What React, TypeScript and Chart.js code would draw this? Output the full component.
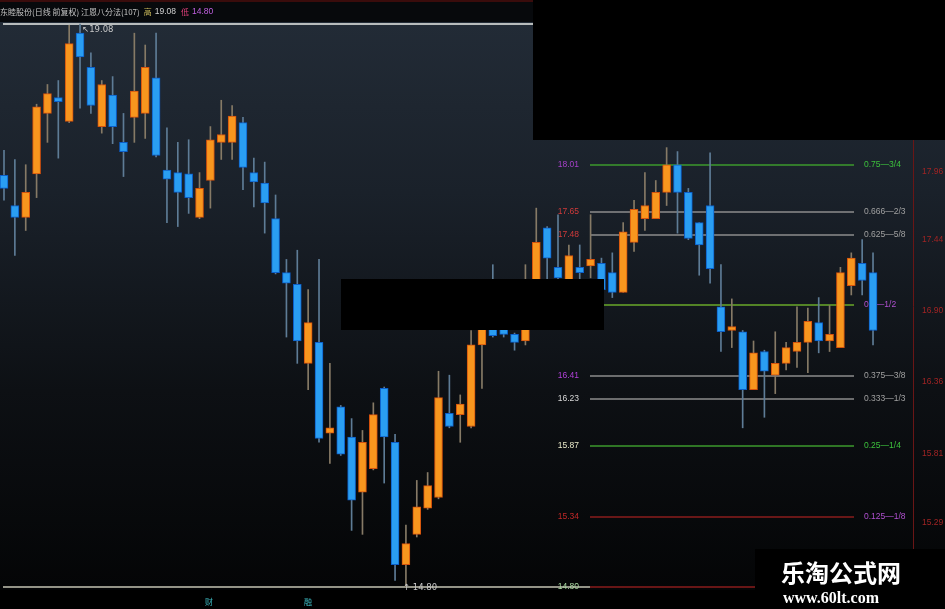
import { useEffect, useRef } from 'react';
import { Chart, registerables } from 'chart.js';

Chart.register(...registerables);

// ---- data ----
const OPEN = [17.93, 17.70, 17.61, 17.94, 18.40, 18.52, 18.34, 19.01, 18.75, 18.30, 18.54, 18.18, 18.37, 18.40, 18.67, 17.97, 17.95, 17.94, 17.61, 17.89, 18.18, 18.18, 18.33, 17.95, 17.87, 17.60, 17.19, 17.10, 16.50, 16.66, 15.97, 16.17, 15.94, 15.52, 15.70, 16.31, 15.90, 14.97, 15.20, 15.40, 15.48, 16.12, 16.11, 16.02, 16.64, 17.02, 16.76, 16.72, 16.67, 17.00, 17.53, 17.23, 17.10, 17.23, 17.24, 17.26, 17.19, 17.04, 17.42, 17.60, 17.60, 17.80, 18.01, 17.80, 17.57, 17.70, 16.93, 16.75, 16.74, 16.30, 16.59, 16.41, 16.50, 16.59, 16.66, 16.81, 16.67, 16.62, 17.09, 17.26, 17.19];
const HIGH = [18.12, 18.05, 18.01, 18.47, 18.62, 18.65, 19.07, 19.08, 18.86, 18.65, 18.68, 18.40, 19.01, 18.92, 19.01, 18.29, 18.18, 18.20, 17.95, 18.30, 18.50, 18.46, 18.37, 18.06, 18.03, 17.78, 17.29, 17.36, 17.06, 17.29, 16.50, 16.18, 16.08, 15.99, 16.20, 16.32, 15.96, 15.27, 15.61, 15.67, 16.44, 16.41, 16.26, 16.75, 17.06, 17.25, 16.95, 16.73, 17.25, 17.68, 17.54, 17.63, 17.40, 17.40, 17.63, 17.30, 17.34, 17.57, 17.74, 17.95, 17.89, 18.14, 18.11, 17.83, 17.57, 18.10, 17.25, 16.99, 16.75, 16.67, 16.60, 16.74, 16.66, 16.93, 16.92, 17.00, 16.94, 17.23, 17.34, 17.44, 17.34];
const LOW = [17.74, 17.32, 17.51, 17.76, 18.18, 18.06, 18.33, 18.44, 18.40, 18.25, 18.17, 17.92, 18.18, 18.21, 18.07, 17.57, 17.54, 17.64, 17.60, 17.68, 18.05, 18.05, 17.82, 17.69, 17.49, 17.18, 16.70, 16.50, 16.30, 15.90, 15.74, 15.80, 15.23, 15.20, 15.69, 15.59, 14.85, 14.80, 15.18, 15.39, 15.47, 16.01, 15.90, 16.01, 16.31, 16.70, 16.70, 16.60, 16.64, 16.95, 17.10, 17.05, 17.05, 17.10, 17.15, 17.00, 17.00, 17.04, 17.35, 17.51, 17.60, 17.70, 17.49, 17.44, 17.17, 17.11, 16.59, 16.62, 16.01, 16.30, 16.09, 16.27, 16.45, 16.47, 16.43, 16.58, 16.59, 16.62, 17.02, 17.02, 16.64];
const CLOSE = [17.83, 17.61, 17.80, 18.45, 18.55, 18.49, 18.93, 18.83, 18.46, 18.62, 18.30, 18.11, 18.57, 18.75, 18.08, 17.90, 17.80, 17.76, 17.83, 18.20, 18.24, 18.38, 17.99, 17.88, 17.72, 17.19, 17.11, 16.67, 16.81, 15.93, 16.01, 15.81, 15.46, 15.90, 16.11, 15.94, 14.97, 15.13, 15.41, 15.57, 16.24, 16.02, 16.19, 16.64, 16.98, 16.71, 16.72, 16.66, 17.00, 17.42, 17.30, 17.15, 17.32, 17.19, 17.29, 17.06, 17.04, 17.50, 17.67, 17.70, 17.80, 18.01, 17.80, 17.45, 17.40, 17.22, 16.74, 16.78, 16.30, 16.58, 16.44, 16.50, 16.62, 16.66, 16.82, 16.67, 16.72, 17.19, 17.30, 17.13, 16.75];

const PERIOD_HIGH = 19.08;
const PERIOD_LOW = 14.80;
const GANN_FRACTIONS = [3 / 4, 2 / 3, 5 / 8, 1 / 2, 3 / 8, 1 / 3, 1 / 4, 1 / 8, 0];
const GANN_NAMES = ['0.75—3/4', '0.666—2/3', '0.625—5/8', '0.5—1/2', '0.375—3/8', '0.333—1/3', '0.25—1/4', '0.125—1/8', ''];
const AXIS_TICKS = [17.96, 17.44, 16.90, 16.36, 15.81, 15.29];
const TITLE = '东睦股份(日线 前复权) 江恩八分法(107)';

// ---- styles ----
const GANN_LINE_COLORS = ['#3c9a2c', '#8c8c8c', '#8c8c8c', '#6aa82a', '#8c8c8c', '#8c8c8c', '#3c9a2c', '#8a1c1c', '#8a1c1c'];
const GANN_VALUE_COLORS = ['#a540c8', '#d03a3a', '#d03a3a', '#a540c8', '#b040d8', '#d8d8d8', '#e8e8c8', '#c02828', '#a8d8a0'];
const GANN_NAME_COLORS = ['#3cc03c', '#a0a0a0', '#a0a0a0', '#b050d0', '#a0a0a0', '#a0a0a0', '#3cc03c', '#b050d0', '#a0a0a0'];
const UP_FILL = '#f8961e';
const UP_EDGE = '#d5520c';
const DN_FILL = '#2a9ef2';
const DN_EDGE = '#0c5ec8';
const UP_WICK = '#867a66';
const DN_WICK = '#5e7c96';

const isUp = (i: number) => CLOSE[i] >= OPEN[i];
const fmt = (v: number) => (v + 1e-9).toFixed(2);

const deco = {
  id: 'deco',
  beforeDraw(chart: any) {
    const { ctx, width, height, chartArea } = chart;
    ctx.save();
    ctx.fillStyle = '#000';
    ctx.fillRect(0, 0, width, height);
    const g = ctx.createLinearGradient(0, chartArea.top, 0, chartArea.bottom);
    g.addColorStop(0, '#222b36');
    g.addColorStop(0.3, '#1a212a');
    g.addColorStop(0.65, '#0d1014');
    g.addColorStop(1, '#040506');
    ctx.fillStyle = g;
    ctx.fillRect(0, chartArea.top, width, chartArea.bottom - chartArea.top);
    // header
    ctx.fillStyle = '#07090c';
    ctx.fillRect(0, 0, 533, chartArea.top);
    ctx.fillStyle = '#3a0c0c';
    ctx.fillRect(0, 0, 533, 2);
    ctx.restore();
  },
  beforeDatasetsDraw(chart: any) {
    const { ctx, scales } = chart;
    const y = scales.y;
    ctx.save();
    // frame lines
    const yTop = y.getPixelForValue(PERIOD_HIGH);
    const yBot = y.getPixelForValue(PERIOD_LOW);
    ctx.strokeStyle = '#b8bcbc';
    ctx.lineWidth = 2;
    ctx.beginPath();
    ctx.moveTo(3, yTop);
    ctx.lineTo(533, yTop);
    ctx.stroke();
    ctx.strokeStyle = '#c4c4b4';
    ctx.lineWidth = 1.5;
    ctx.beginPath();
    ctx.moveTo(3, yBot);
    ctx.lineTo(590, yBot);
    ctx.stroke();
    // gann lines
    ctx.font = '8.5px "Liberation Sans", sans-serif';
    ctx.textBaseline = 'middle';
    GANN_FRACTIONS.forEach((f, k) => {
      const v = PERIOD_LOW + f * (PERIOD_HIGH - PERIOD_LOW);
      const py = Math.round(y.getPixelForValue(v));
      ctx.strokeStyle = GANN_LINE_COLORS[k];
      ctx.lineWidth = 1.6;
      ctx.beginPath();
      ctx.moveTo(590, py);
      ctx.lineTo(854, py);
      ctx.stroke();
      ctx.textAlign = 'right';
      ctx.fillStyle = GANN_VALUE_COLORS[k];
      ctx.fillText(fmt(v), 579, py);
      if (GANN_NAMES[k]) {
        ctx.textAlign = 'left';
        ctx.fillStyle = GANN_NAME_COLORS[k];
        ctx.fillText(GANN_NAMES[k], 864, py);
      }
    });
    ctx.restore();
  },
  afterDraw(chart: any) {
    const { ctx, scales, width } = chart;
    const x = scales.x;
    const y = scales.y;
    ctx.save();
    // masks
    ctx.fillStyle = '#000';
    ctx.fillRect(533, 0, width - 533, 140);
    ctx.fillRect(341, 279, 263, 51);
    // header text
    ctx.textBaseline = 'middle';
    ctx.textAlign = 'left';
    let cx = 0;
    const part = (t: string, color: string, font: string, gap: number) => {
      ctx.font = font;
      ctx.fillStyle = color;
      ctx.fillText(t, cx, 12);
      cx += ctx.measureText(t).width + gap;
    };
    const cjk = '8px "Noto Sans CJK SC", sans-serif';
    const num = '8.5px "Liberation Sans", sans-serif';
    part(TITLE, '#c4c4c4', cjk, 4);
    part('高', '#cdbb5c', cjk, 3);
    part(fmt(PERIOD_HIGH), '#d0d0d0', num, 5);
    part('低', '#e0407a', cjk, 3);
    part(fmt(PERIOD_LOW), '#c060e0', num, 0);
    // high/low annotations
    ctx.font = '8.5px "DejaVu Sans", sans-serif';
    ctx.fillStyle = '#c8c8c8';
    const hiIdx = HIGH.indexOf(Math.max(...HIGH));
    const loIdx = LOW.indexOf(Math.min(...LOW));
    ctx.fillText('↖19.08', x.getPixelForValue(hiIdx) + 2, y.getPixelForValue(HIGH[hiIdx]) + 6);
    ctx.fillText('↑ ' + fmt(LOW[loIdx]), x.getPixelForValue(loIdx) - 3, y.getPixelForValue(LOW[loIdx]) + 1);
    // bottom markers
    ctx.font = '8px "Noto Sans CJK SC", sans-serif';
    ctx.fillStyle = '#3cb8c0';
    ctx.fillText('财', 205, 602);
    ctx.fillText('融', 304, 602);
    // watermark
    ctx.fillStyle = '#000';
    ctx.fillRect(755, 549, width - 755, 60);
    ctx.fillStyle = '#ffffff';
    ctx.textBaseline = 'alphabetic';
    ctx.font = 'bold 24px "Noto Sans CJK SC", sans-serif';
    ctx.fillText('乐淘公式网', 781, 582);
    ctx.font = 'bold 16px "Liberation Serif", serif';
    ctx.fillText('www.60lt.com', 783, 603);
    ctx.restore();
  },
};

export default function App() {
  const ref = useRef<HTMLCanvasElement | null>(null);
  useEffect(() => {
    document.body.style.margin = '0';
    document.body.style.background = '#000';
    const idx = OPEN.map((_, i) => i);
    const chart = new Chart(ref.current as HTMLCanvasElement, {
      type: 'bar',
      data: {
        datasets: [
          {
            label: 'body',
            order: 0,
            data: idx.map((i) => ({ x: i, y: [OPEN[i], CLOSE[i]] })) as any,
            backgroundColor: (c: any) => (isUp(c.dataIndex) ? UP_FILL : DN_FILL),
            borderColor: (c: any) => (isUp(c.dataIndex) ? UP_EDGE : DN_EDGE),
            borderWidth: 1,
            borderSkipped: false,
            barThickness: 8,
            grouped: false,
          } as any,
          {
            label: 'wick',
            order: 1,
            data: idx.map((i) => ({ x: i, y: [LOW[i], HIGH[i]] })) as any,
            backgroundColor: (c: any) => (isUp(c.dataIndex) ? UP_WICK : DN_WICK),
            borderWidth: 0,
            barThickness: 1,
            grouped: false,
          } as any,
        ],
      },
      options: {
        animation: false,
        responsive: false,
        devicePixelRatio: 1,
        events: [],
        layout: { padding: { top: 22, bottom: 19, left: 0, right: 0 } },
        plugins: { legend: { display: false }, tooltip: { enabled: false } },
        scales: {
          x: { type: 'linear', display: false, offset: false, min: -0.368, max: 83.68 },
          y: {
            type: 'linear',
            position: 'right',
            min: 14.777,
            max: 19.095,
            grid: { display: false, drawTicks: false },
            border: { display: true, color: '#6a1616', width: 1 },
            afterBuildTicks: (s: any) => {
              s.ticks = AXIS_TICKS.map((v) => ({ value: v }));
            },
            afterFit: (s: any) => {
              s.width = 32;
            },
            ticks: {
              color: '#a02424',
              padding: 9,
              font: { size: 8.5, family: '"Liberation Sans", sans-serif' },
              callback: (v: any) => Number(v).toFixed(2),
            },
          },
        },
      } as any,
      plugins: [deco],
    });
    return () => chart.destroy();
  }, []);
  return <canvas ref={ref} width={945} height={609} style={{ display: 'block' }} />;
}
